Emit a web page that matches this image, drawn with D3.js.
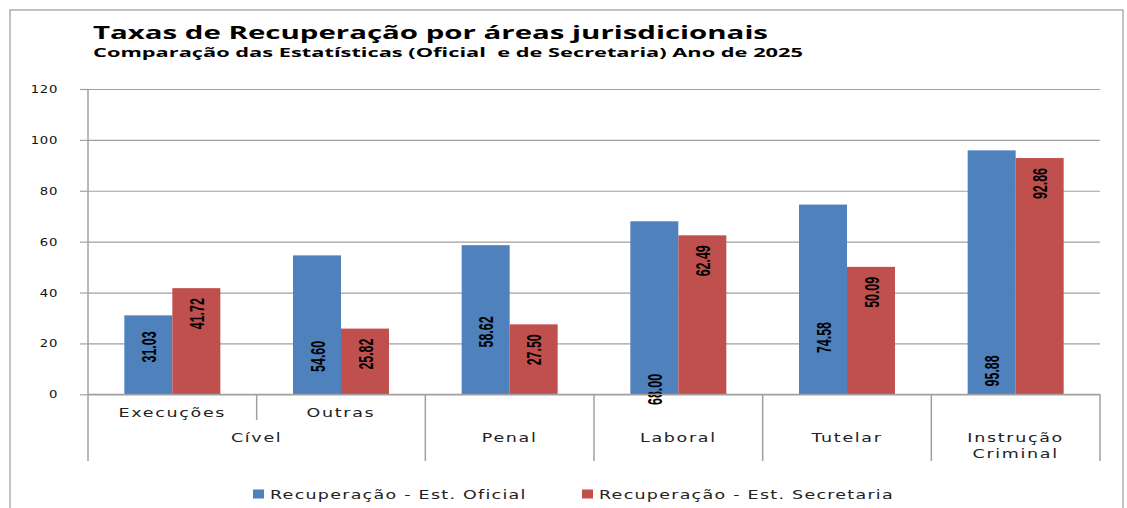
<!DOCTYPE html>
<html>
<head>
<meta charset="utf-8">
<script src="https://cdn.jsdelivr.net/npm/d3@7"></script>
<style>
  html, body { margin: 0; padding: 0; background: #fff; }
  svg { display: block; }
  text { white-space: pre; }
</style>
</head>
<body>
<svg id="chart" width="1127" height="508"></svg>
<script>
// ---- data ----
const categories = ["Execuções", "Outras", "Penal", "Laboral", "Tutelar", "Instrução Criminal"];
const subLabels = ["Execuções", "Outras", "", "", "", ""];
const areaLabels = ["Cível", "Penal", "Laboral", "Tutelar", "Instrução\nCriminal"];
const areaSpans = [["Execuções", "Outras"], ["Penal"], ["Laboral"], ["Tutelar"], ["Instrução Criminal"]];
const seriesNames = ["Recuperação - Est. Oficial", "Recuperação - Est. Secretaria"];
const official = [31.03, 54.60, 58.62, 68.00, 74.58, 95.88];
const secretaria = [41.72, 25.82, 27.50, 62.49, 50.09, 92.86];
// where the (manually placed) labels of the first series sit, in value units
const officialLabelAt = [18.6, 14.9, 24.5, 1.9, 22.3, 9.2];
const yTicks = [0, 20, 40, 60, 80, 100, 120];
const titleText = "Taxas de Recuperação por áreas jurisdicionais";
const subtitleText = "Comparação das Estatísticas (Oficial  e de Secretaria) Ano de 2025";

// ---- layout ----
const colors = ["#4F81BD", "#C0504D"];
const plot = { left: 88, right: 1100, top: 89, bottom: 394.3 };
const sepBottom = 461;
const hStretch = 1.4;

const svg = d3.select("#chart");

// outer frame
svg.append("rect")
  .attr("x", 10).attr("y", 10).attr("width", 1113).attr("height", 520)
  .attr("fill", "none").attr("stroke", "#9a9a9a").attr("stroke-width", 1.2);

// title
svg.append("text")
  .attr("x", 93).attr("y", 38.5)
  .attr("font-family", "'Open Sans', 'Liberation Sans', sans-serif")
  .attr("font-weight", "bold").attr("font-size", 18)
  .attr("textLength", 675).attr("lengthAdjust", "spacingAndGlyphs")
  .attr("fill", "#000").text(titleText);
svg.append("text")
  .attr("x", 93).attr("y", 57)
  .attr("font-family", "'Open Sans', 'Liberation Sans', sans-serif")
  .attr("font-weight", "bold").attr("font-size", 12.5)
  .attr("textLength", 710).attr("lengthAdjust", "spacingAndGlyphs")
  .attr("fill", "#000").text(subtitleText);

const x0 = d3.scaleBand().domain(categories).range([plot.left, plot.right]).padding(0);
const x1 = d3.scaleBand().domain(seriesNames).range([0, x0.bandwidth()])
  .paddingInner(0).paddingOuter(0.757);
const y = d3.scaleLinear().domain([0, 120]).range([plot.bottom, plot.top]);

// gridlines
const grid = svg.append("g").attr("transform", `translate(${plot.left},0)`)
  .call(d3.axisLeft(y).tickValues(yTicks).tickSize(-(plot.right - plot.left)).tickFormat(""));
grid.select(".domain").remove();
grid.selectAll("line").attr("stroke", "#a0a0a0").attr("stroke-width", 1.2);

// y axis
const yAxis = svg.append("g").attr("transform", `translate(${plot.left},0)`)
  .call(d3.axisLeft(y).tickValues(yTicks).tickSize(8).tickPadding(22));
yAxis.select(".domain").remove();
yAxis.selectAll("line").attr("stroke", "#a0a0a0").attr("stroke-width", 1.2);
yAxis.selectAll("text")
  .attr("font-family", "'DejaVu Sans', Verdana, sans-serif")
  .attr("font-size", 11).attr("fill", "#111")
  .attr("letter-spacing", 0.6)
  .each(function () {
    const t = d3.select(this);
    const xx = +t.attr("x");
    t.attr("x", 0).attr("transform", `translate(${xx},0) scale(1.2,1)`);
  });

// vertical axis line extended to bottom of category area
svg.append("line")
  .attr("x1", plot.left).attr("x2", plot.left)
  .attr("y1", plot.top).attr("y2", sepBottom)
  .attr("stroke", "#a0a0a0").attr("stroke-width", 1.5);

// bars
const rows = categories.map((c, i) => ({ c, vals: [official[i], secretaria[i]], lab: officialLabelAt[i] }));
const groups = svg.append("g").selectAll("g").data(rows).join("g")
  .attr("transform", d => `translate(${x0(d.c)},0)`);
groups.selectAll("rect")
  .data(d => d.vals.map((v, j) => ({ v, j })))
  .join("rect")
  .attr("x", d => x1(seriesNames[d.j]))
  .attr("width", x1.bandwidth())
  .attr("y", d => y(d.v))
  .attr("height", d => y(0) - y(d.v))
  .attr("fill", d => colors[d.j]);

// baseline (category axis)
svg.append("line")
  .attr("x1", plot.left).attr("x2", plot.right)
  .attr("y1", y(0)).attr("y2", y(0))
  .attr("stroke", "#a0a0a0").attr("stroke-width", 1.2);

// data labels (rotated)
const labelFont = "'Liberation Sans Narrow', 'Liberation Sans', Arial, sans-serif";
groups.each(function (d) {
  const g = d3.select(this);
  const cx0 = x1(seriesNames[0]) + x1.bandwidth() / 2;
  g.append("text")
    .attr("transform", `translate(${cx0},${y(d.lab)}) rotate(-90)`)
    .attr("text-anchor", "middle").attr("dy", "0.36em")
    .attr("font-family", labelFont).attr("font-weight", "bold").attr("font-size", 21)
    .attr("textLength", 31).attr("lengthAdjust", "spacingAndGlyphs")
    .attr("fill", "#000").text(d.vals[0].toFixed(2));
  const cx1 = x1(seriesNames[1]) + x1.bandwidth() / 2;
  g.append("text")
    .attr("transform", `translate(${cx1},${y(d.vals[1]) + 10}) rotate(-90)`)
    .attr("text-anchor", "end").attr("dy", "0.36em")
    .attr("font-family", labelFont).attr("font-weight", "bold").attr("font-size", 21)
    .attr("textLength", 31).attr("lengthAdjust", "spacingAndGlyphs")
    .attr("fill", "#000").text(d.vals[1].toFixed(2));
});

// category separators
const sep = svg.append("g").attr("stroke", "#a0a0a0").attr("stroke-width", 1.5);
categories.forEach((c, i) => {
  if (i === 0) return;
  const short = subLabels[i] !== "" && subLabels[i - 1] !== "";
  sep.append("line")
    .attr("x1", x0(c)).attr("x2", x0(c))
    .attr("y1", y(0)).attr("y2", short ? 420 : sepBottom);
});
sep.append("line")
  .attr("x1", plot.right).attr("x2", plot.right)
  .attr("y1", y(0)).attr("y2", sepBottom);

const catFont = "'DejaVu Sans', Verdana, sans-serif";
function stretchedText(parent, x, yy, str, size) {
  return parent.append("text")
    .attr("transform", `translate(${x},${yy}) scale(${hStretch},1)`)
    .attr("text-anchor", "middle")
    .attr("font-family", catFont).attr("font-size", size)
    .attr("letter-spacing", 1.2)
    .attr("fill", "#222").text(str);
}

// sub labels
categories.forEach((c, i) => {
  if (subLabels[i]) stretchedText(svg, x0(c) + x0.bandwidth() / 2, 416.5, subLabels[i], 12.5);
});
// area labels
areaLabels.forEach((a, i) => {
  const span = areaSpans[i];
  const xs = x0(span[0]);
  const xe = x0(span[span.length - 1]) + x0.bandwidth();
  const lines = a.split("\n");
  lines.forEach((ln, k) => stretchedText(svg, (xs + xe) / 2, 441.7 + k * 16, ln, 12.5));
});

// legend
const legendX = [253, 582];
seriesNames.forEach((s, j) => {
  svg.append("rect")
    .attr("x", legendX[j]).attr("y", 489.5).attr("width", 11).attr("height", 9)
    .attr("fill", colors[j]);
  svg.append("text")
    .attr("transform", `translate(${legendX[j] + 17},499) scale(${hStretch},1)`)
    .attr("font-family", catFont).attr("font-size", 12.5)
    .attr("letter-spacing", 0.9)
    .attr("fill", "#222").text(s);
});
</script>
</body>
</html>
